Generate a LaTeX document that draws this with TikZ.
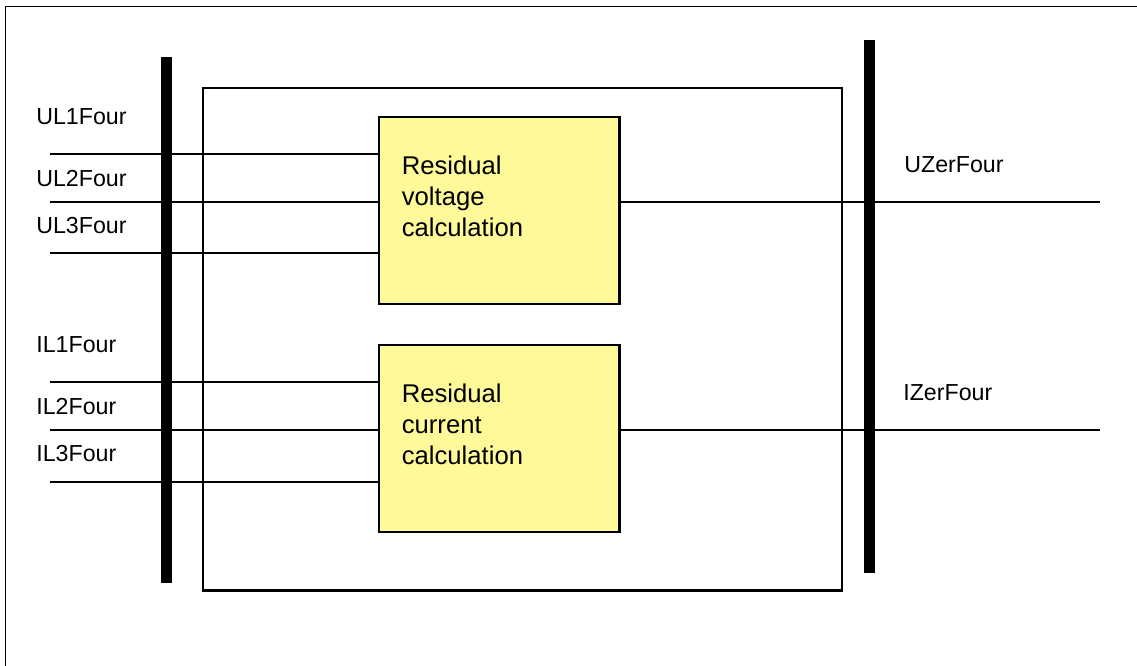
\documentclass[tikz,border=0pt]{standalone}
\usepackage{fontspec}
\setmainfont{Liberation Sans}
\begin{document}
\begin{tikzpicture}[x=0.02cm,y=-0.02cm,
  lbl/.style={anchor=base west,inner sep=0pt,font=\fontsize{13.2}{16}\selectfont},
  calcbox/.style={draw=black,line width=1.2pt,fill=yellow!40,minimum width=4.82cm,minimum height=3.74cm,anchor=north west,inner sep=0pt},
  boxtext/.style={anchor=north west,inner sep=0pt,align=left,font=\fontsize{14.6}{17.6}\selectfont},
  bar/.style={line width=0.23cm},
  sig/.style={line width=0.9pt},
  frame/.style={line width=0.6pt}
  ]
\useasboundingbox (0,0) rectangle (1137,666);
% outer frame (left and top edges)
\coordinate (fbl) at (5.5,666);
\coordinate (ftl) at (5.5,6.5);
\coordinate (ftr) at (1137,6.5);
\draw[frame] (fbl) -- (ftl) -- (ftr);
% inner function block
\node[draw=black,line width=1.2pt,minimum width=12.79cm,minimum height=10.05cm,anchor=north west,inner sep=0pt] (fb) at (202,87) {};
% calculation boxes
\node[calcbox] (vbox) at (377.5,116) {};
\node[calcbox] (cbox) at (377.5,344) {};
\node[boxtext] (vtxt) at (401.5,156) {Residual\\voltage\\calculation};
\node[boxtext] (ctxt) at (401.5,384) {Residual\\current\\calculation};
% input start points
\coordinate (u1) at (50,154);
\coordinate (u2) at (50,202);
\coordinate (u3) at (50,253);
\coordinate (i1) at (50,382);
\coordinate (i2) at (50,430);
\coordinate (i3) at (50,482);
\draw[sig] (u1) -- (u1 -| vbox.west);
\draw[sig] (u2) -- (u2 -| vbox.west);
\draw[sig] (u3) -- (u3 -| vbox.west);
\draw[sig] (i1) -- (i1 -| cbox.west);
\draw[sig] (i2) -- (i2 -| cbox.west);
\draw[sig] (i3) -- (i3 -| cbox.west);
% outputs
\coordinate (uz) at (1100,202);
\coordinate (iz) at (1100,430);
\draw[sig] (uz -| vbox.east) -- (uz);
\draw[sig] (iz -| cbox.east) -- (iz);
% bars
\coordinate (lbt) at (166.5,57);
\coordinate (lbb) at (166.5,582.5);
\coordinate (rbt) at (869.5,40);
\coordinate (rbb) at (869.5,573);
\draw[bar] (lbt) -- (lbb);
\draw[bar] (rbt) -- (rbb);
% labels
\node[lbl] (lu1) at (36,124) {UL1Four};
\node[lbl] (lu2) at (36,186) {UL2Four};
\node[lbl] (lu3) at (36,233) {UL3Four};
\node[lbl] (li1) at (36,352) {IL1Four};
\node[lbl] (li2) at (36,414) {IL2Four};
\node[lbl] (li3) at (36,461) {IL3Four};
\node[lbl] (luz) at (904,172) {UZerFour};
\node[lbl] (liz) at (903,400) {IZerFour};
\end{tikzpicture}
\end{document}
